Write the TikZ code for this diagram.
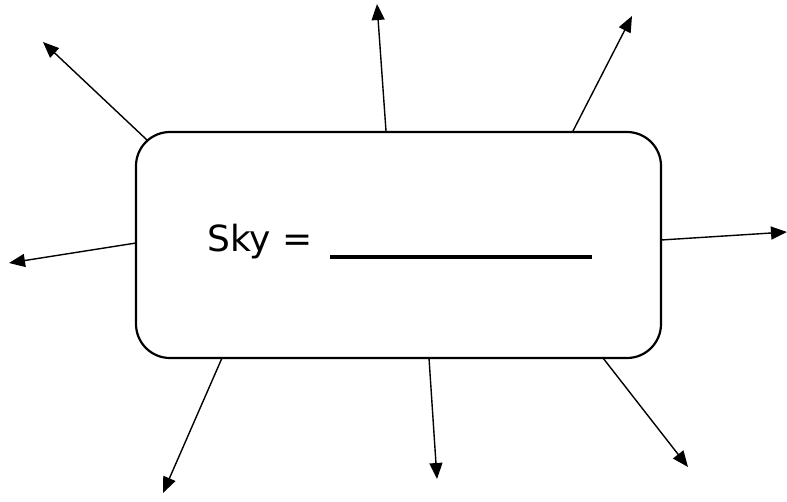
\documentclass[tikz,border=0pt]{standalone}
\usepackage{fontspec}
\setmainfont{DejaVu Sans}
\usetikzlibrary{arrows.meta}
\begin{document}
\begin{tikzpicture}[x=1pt,y=-1pt,
  ray/.style={line width=1.4pt,-{Triangle[length=16pt,width=13pt]}},
  box/.style={draw,line width=2.2pt,rounded corners=34pt,minimum width=525pt,minimum height=226pt,inner sep=0pt}]
\useasboundingbox (0,0) rectangle (787,501);
\node[box] (box) at (398.5,245) {};
\node[anchor=base west,inner sep=0pt,font=\fontsize{36}{42}\selectfont] (lbl) at (207,251) {Sky =};
\coordinate (ul1) at (330,257);
\coordinate (ul2) at (592,257);
\draw[line width=4pt] (ul1) -- (ul2);
% start points
\coordinate (s1) at (147,140);
\coordinate (s2) at (386,131);
\coordinate (s3) at (573,131);
\coordinate (s4) at (136,243);
\coordinate (s5) at (661,240);
\coordinate (s6) at (222,358);
\coordinate (s7) at (429,358);
\coordinate (s8) at (603,358);
% tips
\coordinate (t1) at (43,42);
\coordinate (t2) at (377,4);
\coordinate (t3) at (632,16);
\coordinate (t4) at (9,263);
\coordinate (t5) at (787,232);
\coordinate (t6) at (163,493);
\coordinate (t7) at (437,479);
\coordinate (t8) at (688,467);
\foreach \i in {1,...,8} {\draw[ray] (s\i) -- (t\i);}
\end{tikzpicture}
\end{document}
